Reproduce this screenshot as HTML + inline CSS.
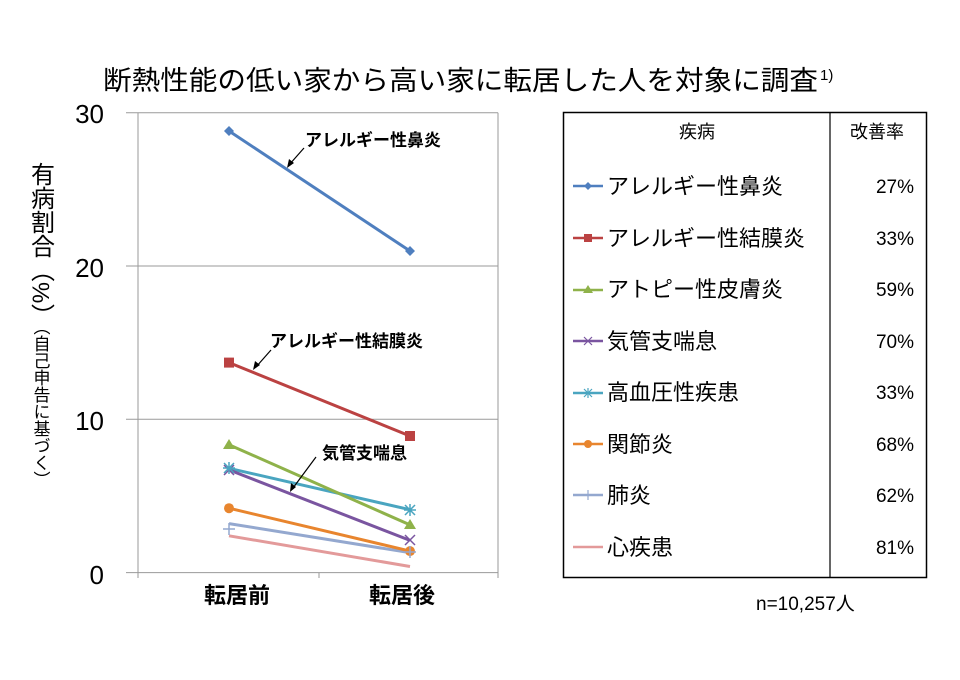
<!DOCTYPE html>
<html><head><meta charset="utf-8"><style>
body{margin:0;background:#fff;width:960px;height:675px;overflow:hidden}
text{font-family:"Liberation Sans","Noto Sans CJK JP",sans-serif}
.v{writing-mode:vertical-rl;-webkit-writing-mode:vertical-rl}
</style></head><body>
<svg width="960" height="675" viewBox="0 0 960 675" xmlns="http://www.w3.org/2000/svg">
<text x="103" y="90" font-size="27" fill="#000" textLength="715" lengthAdjust="spacingAndGlyphs">断熱性能の低い家から高い家に転居した人を対象に調査</text>
<text x="820" y="80" font-size="15">1)</text>
<g stroke="#9a9a9a" stroke-width="1">
<line x1="126" y1="112.7" x2="498" y2="112.7"/>
<line x1="126" y1="266" x2="498" y2="266"/>
<line x1="126" y1="419.3" x2="498" y2="419.3"/>
<line x1="126" y1="572.6" x2="498" y2="572.6"/>
<line x1="138" y1="112.7" x2="138" y2="578"/>
<line x1="498" y1="112.7" x2="498" y2="578"/>
<line x1="319" y1="572.6" x2="319" y2="578"/>
</g>
<g font-size="26" fill="#000" text-anchor="end">
<text x="104" y="123">30</text><text x="104" y="277">20</text><text x="104" y="430">10</text><text x="104" y="584">0</text>
</g>
<g font-size="22" font-weight="bold" text-anchor="middle"><text x="237" y="603">転居前</text><text x="402" y="603">転居後</text></g>
<text class="v" x="40" y="162" font-size="24">有病割合（%）</text>
<text class="v" x="40" y="318" font-size="17">（自己申告に基づく）</text>
<g stroke-width="3" fill="none">
<line x1="229" y1="535.8" x2="410" y2="566.5" stroke="#e39a9a"/>
<line x1="229" y1="523.6" x2="410" y2="552.7" stroke="#94a8cf"/>
<line x1="229" y1="508.2" x2="410" y2="551.1" stroke="#e8852e"/>
<line x1="229" y1="468.3" x2="410" y2="509.7" stroke="#4aa5c0"/>
<line x1="229" y1="469.9" x2="410" y2="540.4" stroke="#7a55a0"/>
<line x1="229" y1="444.7" x2="410" y2="524.9" stroke="#8fb24a"/>
<line x1="229" y1="362.6" x2="410" y2="436" stroke="#bb4242"/>
<line x1="229" y1="131" x2="410" y2="251" stroke="#4f7fbf"/>
</g>
<path d="M229 126l5 5-5 5-5-5z M410 246l5 5-5 5-5-5z" fill="#4f7fbf"/>
<rect x="224" y="357.6" width="10" height="10" fill="#bb4242"/><rect x="405" y="431" width="10" height="10" fill="#bb4242"/>
<path d="M229 439l6 10h-12z M410 519l6 10h-12z" fill="#8fb24a"/>
<circle cx="229" cy="508.2" r="5" fill="#e8852e"/><circle cx="410" cy="551.1" r="5" fill="#e8852e"/>
<g stroke-width="1.5"><path d="M224 465l10 10M234 465l-10 10M405 535l10 10M415 535l-10 10" stroke="#7a55a0"/>
<path d="M223 468h12M229 462v12M224 463l10 10M234 463l-10 10M404 510h12M410 504v12M405 505l10 10M415 505l-10 10" stroke="#4aa5c0"/>
<path d="M223 529h12M229 523v12M404 552h12M410 546v12" stroke="#94a8cf"/></g>
<g font-size="17" font-weight="bold">
<text x="305" y="146">アレルギー性鼻炎</text>
<text x="270" y="347">アレルギー性結膜炎</text>
<text x="322" y="459">気管支喘息</text>
</g>
<g stroke="#000" stroke-width="1.2">
<line x1="304" y1="148" x2="289" y2="165"/><line x1="271" y1="350" x2="256" y2="367"/><line x1="316" y1="457" x2="293" y2="488"/>
</g>
<path d="M287 168l2-9 5 4z M253 370l2-9 5 4z M290 492l1-9 5 4z" fill="#000"/>
<rect x="563.5" y="112.5" width="363" height="465" fill="none" stroke="#000" stroke-width="1.5"/>
<line x1="830" y1="112" x2="830" y2="578" stroke="#000" stroke-width="1.2"/>
<g font-size="18" text-anchor="middle"><text x="697" y="138">疾病</text><text x="877" y="138">改善率</text></g>
<g font-size="22">
<text x="607" y="194">アレルギー性鼻炎</text>
<text x="607" y="246">アレルギー性結膜炎</text>
<text x="607" y="297">アトピー性皮膚炎</text>
<text x="607" y="349">気管支喘息</text>
<text x="607" y="400">高血圧性疾患</text>
<text x="607" y="452">関節炎</text>
<text x="607" y="503">肺炎</text>
<text x="607" y="555">心疾患</text>
</g>
<g font-size="19" text-anchor="end">
<text x="914" y="193">27%</text><text x="914" y="245">33%</text><text x="914" y="296">59%</text><text x="914" y="348">70%</text>
<text x="914" y="399">33%</text><text x="914" y="451">68%</text><text x="914" y="502">62%</text><text x="914" y="554">81%</text>
</g>
<g stroke-width="2.5">
<line x1="573" y1="186" x2="603" y2="186" stroke="#4f7fbf"/>
<line x1="573" y1="238" x2="603" y2="238" stroke="#bb4242"/>
<line x1="573" y1="290" x2="603" y2="290" stroke="#8fb24a"/>
<line x1="573" y1="341" x2="603" y2="341" stroke="#7a55a0"/>
<line x1="573" y1="393" x2="603" y2="393" stroke="#4aa5c0"/>
<line x1="573" y1="444" x2="603" y2="444" stroke="#e8852e"/>
<line x1="573" y1="495" x2="603" y2="495" stroke="#94a8cf"/>
<line x1="573" y1="547" x2="603" y2="547" stroke="#e39a9a"/>
</g>
<path d="M588 182l4 4-4 4-4-4z" fill="#4f7fbf"/><rect x="584" y="234" width="8" height="8" fill="#bb4242"/>
<path d="M588 285l5 8h-10z" fill="#8fb24a"/><circle cx="588" cy="444" r="4" fill="#e8852e"/>
<path d="M584 337l8 8M592 337l-8 8" stroke="#7a55a0" stroke-width="1.2"/>
<path d="M584 389l8 8M592 389l-8 8M588 388v10" stroke="#4aa5c0" stroke-width="1.2"/>
<path d="M588 490v10" stroke="#94a8cf" stroke-width="1.2"/>
<text x="756" y="610" font-size="19">n=10,257人</text>
</svg>
</body></html>
